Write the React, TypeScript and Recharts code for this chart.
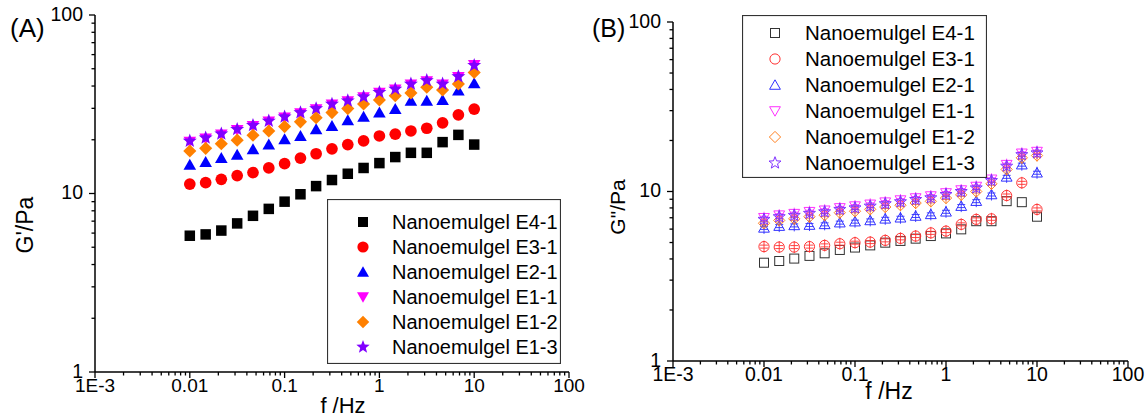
import React from 'react';
import { ScatterChart, Scatter, XAxis, YAxis, Legend } from 'recharts';

// frequency sweep, 6 points per decade
const freq = [0.01, 0.0147, 0.0215, 0.0316, 0.0464, 0.0681, 0.1, 0.147, 0.215, 0.316, 0.464, 0.681, 1, 1.47, 2.15, 3.16, 4.64, 6.81, 10];

const seriesNames = ['Nanoemulgel E4-1', 'Nanoemulgel E3-1', 'Nanoemulgel E2-1', 'Nanoemulgel E1-1', 'Nanoemulgel E1-2', 'Nanoemulgel E1-3'];

// (A) storage modulus G'
const gStoreE41 = [5.8, 5.9, 6.2, 6.8, 7.5, 8.2, 9.0, 9.9, 11.0, 11.9, 12.9, 13.9, 14.8, 16.0, 16.9, 16.9, 19.4, 21.3, 18.8];
const gStoreE31 = [11.3, 11.5, 12.0, 12.6, 13.1, 13.9, 14.7, 15.8, 16.7, 17.8, 18.8, 19.7, 21.0, 21.5, 22.4, 23.2, 24.9, 27.6, 29.7];
const gStoreE21 = [14.5, 15.0, 15.8, 16.5, 17.7, 18.8, 20.1, 21.0, 22.9, 23.9, 25.7, 26.9, 28.4, 29.7, 33.1, 33.1, 33.4, 37.7, 41.5];
const gStoreE11 = [19.5, 20.3, 21.4, 22.7, 23.9, 25.3, 26.7, 28.2, 29.7, 31.5, 32.9, 34.6, 36.7, 38.3, 40.8, 42.6, 40.8, 45.0, 52.5];
const gStoreE12 = [17.3, 17.9, 19.0, 19.9, 21.2, 22.4, 23.7, 25.2, 26.6, 28.4, 29.9, 31.7, 33.4, 35.3, 36.6, 39.4, 38.0, 41.1, 47.7];
const gStoreE13 = [19.7, 20.5, 21.6, 22.9, 24.1, 25.5, 26.9, 28.4, 29.9, 31.7, 33.1, 34.8, 36.9, 38.5, 41.1, 43.0, 41.1, 45.2, 52.2];

// (B) loss modulus G"
const gLossE41 = [3.8, 3.89, 4.02, 4.17, 4.32, 4.52, 4.67, 4.81, 4.99, 5.11, 5.27, 5.46, 5.66, 5.98, 6.68, 6.68, 8.77, 8.65, 7.1];
const gLossE31 = [4.73, 4.7, 4.7, 4.73, 4.81, 4.92, 4.99, 5.03, 5.15, 5.29, 5.46, 5.7, 5.84, 6.4, 6.85, 6.9, 9.47, 11.25, 7.84];
const gLossE21 = [6.1, 6.25, 6.31, 6.34, 6.4, 6.55, 6.64, 6.75, 6.9, 7.0, 7.17, 7.33, 7.59, 8.2, 8.77, 9.6, 12.2, 14.4, 12.9];
const gLossE11 = [7.0, 7.25, 7.4, 7.6, 7.75, 8.0, 8.2, 8.4, 8.65, 8.9, 9.15, 9.4, 9.8, 10.2, 10.7, 11.8, 14.4, 16.8, 17.2];
const gLossE12 = [6.5, 6.75, 6.9, 7.1, 7.25, 7.5, 7.65, 7.85, 8.1, 8.3, 8.55, 8.75, 9.15, 9.55, 10.0, 11.1, 13.5, 15.8, 16.3];
const gLossE13 = [6.85, 7.1, 7.23, 7.43, 7.59, 7.84, 8.01, 8.2, 8.47, 8.7, 8.97, 9.18, 9.6, 10.0, 10.5, 11.6, 14.1, 16.5, 16.9];

const xMajor = [0.001, 0.01, 0.1, 1, 10, 100];
const xMajorLabels = ['1E-3', '0.01', '0.1', '1', '10', '100'];
const yMajor = [1, 10, 100];
const yMajorLabels = ['1', '10', '100'];
const minorSteps = [2, 3, 4, 5, 6, 7, 8, 9];

const xTicks = [...xMajor, ...xMajor.slice(0, -1).flatMap((d) => minorSteps.map((m) => d * m))];
const yTicks = [...yMajor, ...yMajor.slice(0, -1).flatMap((d) => minorSteps.map((m) => d * m))];

const colorsA = ['#000000', '#ff0000', '#0000ff', '#ff00ff', '#ff8000', '#8000ff'];
const colorsB = ['#333333', '#ff3030', '#3030ff', '#ff30ff', '#ff8020', '#8030ff'];
const kinds = ['square', 'circle', 'triangle', 'down', 'diamond', 'star'];

const FONT = '"Liberation Sans", Arial, sans-serif';

const toPoints = (vals: number[]) => freq.map((f, i) => ({ f, g: vals[i] }));
const dataA = [gStoreE41, gStoreE31, gStoreE21, gStoreE11, gStoreE12, gStoreE13].map(toPoints);
const dataB = [gLossE41, gLossE31, gLossE21, gLossE11, gLossE12, gLossE13].map(toPoints);

function starPoints(cx: number, cy: number, R: number) {
  const pts: string[] = [];
  for (let k = 0; k < 10; k++) {
    const r = k % 2 === 0 ? R : R * 0.42;
    const a = -Math.PI / 2 + (k * Math.PI) / 5;
    pts.push(`${cx + r * Math.cos(a)},${cy + r * Math.sin(a)}`);
  }
  return pts.join(' ');
}

function Marker({ kind, cx, cy, color, filled, size }: { kind: string; cx: number; cy: number; color: string; filled: boolean; size: number }) {
  const r = size / 2;
  const fill = filled ? color : 'none';
  const sw = filled ? 0 : 1;
  switch (kind) {
    case 'square':
      return <rect x={cx - r} y={cy - r} width={size} height={size} fill={fill} stroke={color} strokeWidth={sw} />;
    case 'circle':
      return <circle cx={cx} cy={cy} r={r + 0.6} fill={fill} stroke={color} strokeWidth={sw} />;
    case 'triangle':
      return <polygon points={`${cx},${cy - r * 1.15} ${cx + r * 1.2},${cy + r * 0.95} ${cx - r * 1.2},${cy + r * 0.95}`} fill={fill} stroke={color} strokeWidth={sw} />;
    case 'down':
      return <polygon points={`${cx},${cy + r * 1.15} ${cx + r * 1.2},${cy - r * 0.95} ${cx - r * 1.2},${cy - r * 0.95}`} fill={fill} stroke={color} strokeWidth={sw} />;
    case 'diamond':
      return <polygon points={`${cx},${cy - r * 1.25} ${cx + r * 1.25},${cy} ${cx},${cy + r * 1.25} ${cx - r * 1.25},${cy}`} fill={fill} stroke={color} strokeWidth={sw} />;
    default:
      return <polygon points={starPoints(cx, cy, r * 1.4)} fill={fill} stroke={color} strokeWidth={sw} />;
  }
}

// hollow marker with its small error bar, as in panel B
function HollowShape(kind: string, color: string) {
  const bar = kind !== 'square';
  return (p: any) => (
    <g>
      {bar && <line x1={p.cx} x2={p.cx} y1={p.cy - 6} y2={p.cy + 6} stroke={color} strokeWidth={0.9} />}
      {bar && <line x1={p.cx - 4} x2={p.cx + 4} y1={p.cy - 1.5} y2={p.cy - 1.5} stroke={color} strokeWidth={0.9} />}
      {bar && <line x1={p.cx - 4} x2={p.cx + 4} y1={p.cy + 1.5} y2={p.cy + 1.5} stroke={color} strokeWidth={0.9} />}
      <Marker kind={kind} cx={p.cx} cy={p.cy} color={color} filled={false} size={9} />
    </g>
  );
}

function makeXTick(fontSize: number) {
  return (props: any) => {
    const { x, y, payload } = props;
    const i = xMajor.indexOf(payload.value);
    return (
      <g>
        <line x1={x} x2={x} y1={y} y2={y + (i >= 0 ? 6 : 3.5)} stroke="#000" strokeWidth={1.3} />
        {i >= 0 && (
          <text x={x} y={y + 13} dy="0.36em" textAnchor="middle" fontSize={fontSize} fontFamily={FONT} fill="#000">
            {xMajorLabels[i]}
          </text>
        )}
      </g>
    );
  };
}

function makeYTick(fontSize: number) {
  return (props: any) => {
    const { x, y, payload } = props;
    const i = yMajor.indexOf(payload.value);
    return (
      <g>
        <line x1={x} x2={x - (i >= 0 ? 6 : 3.5)} y1={y} y2={y} stroke="#000" strokeWidth={1.3} />
        {i >= 0 && (
          <text x={x - 12} y={y - 1.5} dy="0.36em" textAnchor="end" fontSize={fontSize} fontFamily={FONT} fill="#000">
            {yMajorLabels[i]}
          </text>
        )}
      </g>
    );
  };
}

function LegendBox({ width, height, rowTop, rowGap, markX, textX, fontSize, colors, filled }: any) {
  return (
    <svg width={width} height={height} style={{ display: 'block' }}>
      <rect x={0.5} y={0.5} width={width - 1} height={height - 1} fill="#fff" stroke="#333" strokeWidth={1.2} />
      {seriesNames.map((name, i) => {
        const cy = rowTop + i * rowGap;
        return (
          <g key={name}>
            <Marker kind={kinds[i]} cx={markX} cy={cy} color={colors[i]} filled={filled} size={filled ? 10 : 9} />
            <text x={textX} y={cy} dy="0.36em" fontSize={fontSize} fontFamily={FONT} fill="#000">
              {name}
            </text>
          </g>
        );
      })}
    </svg>
  );
}

export default function App() {
  return (
    <div style={{ position: 'absolute', left: 0, top: 0, width: 1145, height: 417, background: '#fff', overflow: 'hidden' }}>
      <div style={{ position: 'absolute', left: 0, top: 0 }}>
        <ScatterChart width={600} height={417} margin={{ top: 15, right: 31, bottom: 0, left: 0 }}>
          <XAxis dataKey="f" type="number" scale="log" domain={[0.001, 100]} ticks={xTicks} interval={0} allowDataOverflow height={45}
            tickSize={0} tickMargin={0} tickLine={false} axisLine={{ stroke: '#000', strokeWidth: 1.5 }} tick={makeXTick(19)} />
          <YAxis dataKey="g" type="number" scale="log" domain={[1, 100]} ticks={yTicks} interval={0} allowDataOverflow width={95}
            tickSize={0} tickMargin={0} tickLine={false} axisLine={{ stroke: '#000', strokeWidth: 1.5 }} tick={makeYTick(19.5)} />
          <Legend layout="vertical" align="center" verticalAlign="middle"
            wrapperStyle={{ position: 'absolute', left: 327, top: 199, width: 234, height: 165 }}
            content={() => <LegendBox width={234} height={165} rowTop={23} rowGap={25} markX={36} textX={65} fontSize={20} colors={colorsA} filled />} />
          {dataA.map((d, i) => (
            <Scatter key={seriesNames[i]} name={seriesNames[i]} data={d} fill={colorsA[i]} isAnimationActive={false}
              shape={(p: any) => <Marker kind={kinds[i]} cx={p.cx} cy={p.cy} color={colorsA[i]} filled size={10.5} />} />
          ))}
        </ScatterChart>
      </div>
      <div style={{ position: 'absolute', left: 578, top: 0 }}>
        <ScatterChart width={567} height={417} margin={{ top: 22, right: 17, bottom: 0, left: 0 }}>
          <XAxis dataKey="f" type="number" scale="log" domain={[0.001, 100]} ticks={xTicks} interval={0} allowDataOverflow height={56}
            tickSize={0} tickMargin={0} tickLine={false} axisLine={{ stroke: '#000', strokeWidth: 1.5 }} tick={makeXTick(19.5)} />
          <YAxis dataKey="g" type="number" scale="log" domain={[1, 100]} ticks={yTicks} interval={0} allowDataOverflow width={95}
            tickSize={0} tickMargin={0} tickLine={false} axisLine={{ stroke: '#000', strokeWidth: 1.5 }} tick={makeYTick(19.5)} />
          <Legend layout="vertical" align="center" verticalAlign="middle"
            wrapperStyle={{ position: 'absolute', left: 164, top: 15, width: 245, height: 163 }}
            content={() => <LegendBox width={245} height={163} rowTop={18} rowGap={26} markX={33} textX={63} fontSize={20.5} colors={colorsB} filled={false} />} />
          {dataB.map((d, i) => (
            <Scatter key={seriesNames[i]} name={seriesNames[i]} data={d} fill={colorsB[i]} isAnimationActive={false}
              shape={HollowShape(kinds[i], colorsB[i])} />
          ))}
        </ScatterChart>
      </div>
      <svg width={1145} height={417} style={{ position: 'absolute', left: 0, top: 0, pointerEvents: 'none' }} fontFamily={FONT}>
        <text x={10} y={37} fontSize={26}>(A)</text>
        <text x={33} y={225} fontSize={23} textAnchor="middle" transform="rotate(-90 33 225)">G'/Pa</text>
        <text x={343} y={413} fontSize={22} textAnchor="middle">f /Hz</text>
        <text x={592} y={37} fontSize={25}>(B)</text>
        <text x={625} y={207} fontSize={21} textAnchor="middle" transform="rotate(-90 625 207)">G"/Pa</text>
        <text x={889} y={399} fontSize={23} textAnchor="middle">f /Hz</text>
      </svg>
    </div>
  );
}
